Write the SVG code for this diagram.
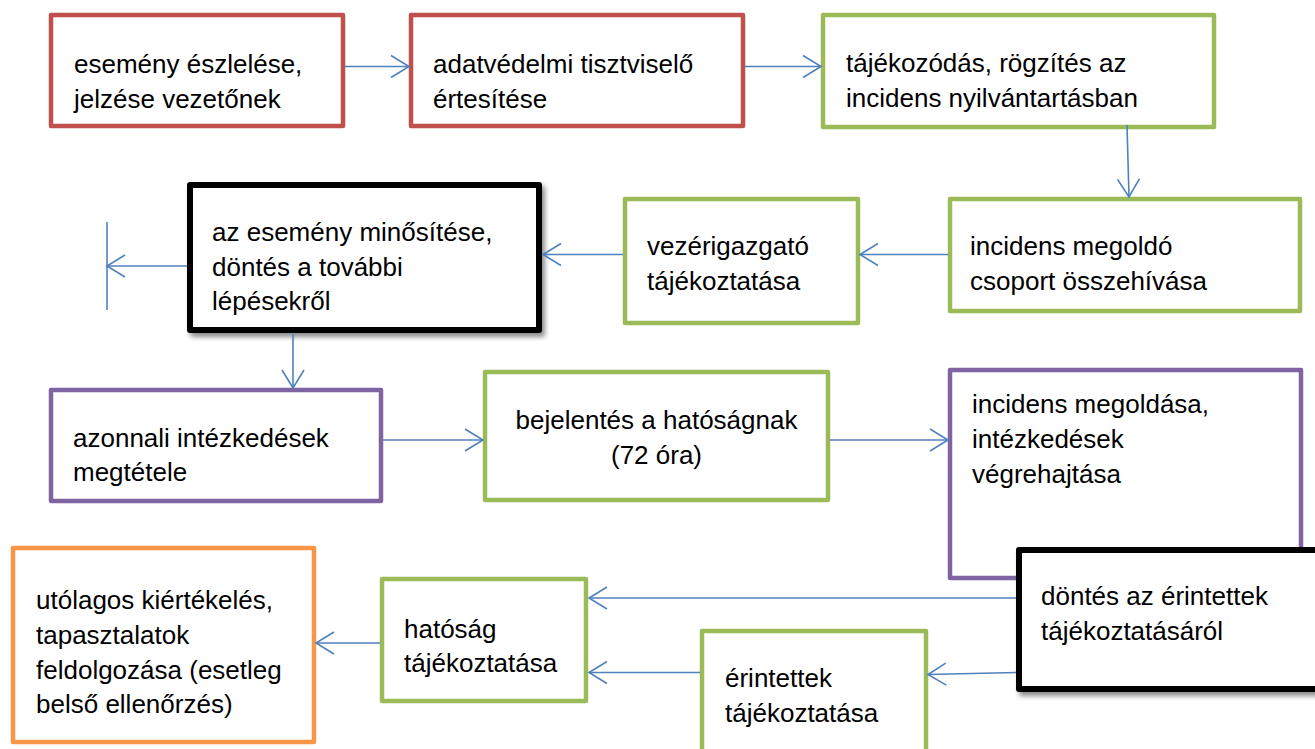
<svg xmlns="http://www.w3.org/2000/svg" width="1315" height="749" viewBox="0 0 1315 749">
<style>
  .box { fill: #ffffff; stroke-width: 4.5; stroke-linejoin: round; }
  .red { stroke: #C0504D; }
  .green { stroke: #9BBB59; }
  .purple { stroke: #8064A2; }
  .orange { stroke: #F79646; }
  .black { stroke: #000000; stroke-width: 6; }
  .t { font-family: "Liberation Sans", Arial, sans-serif; font-size: 26px; fill: #000000; }
  .conn line, .conn path { stroke: #4F81BD; stroke-width: 1.6; fill: none; }
</style>
<defs>
  <marker id="arr" markerUnits="userSpaceOnUse" markerWidth="24" markerHeight="28" refX="20" refY="12" orient="auto" viewBox="0 0 24 24">
    <path d="M2,1 L20,12 L2,23" fill="none" stroke="#4F81BD" stroke-width="1.6"/>
  </marker>
  <filter id="shadow" x="-10%" y="-10%" width="125%" height="130%">
    <feDropShadow dx="3" dy="4" stdDeviation="2.5" flood-color="#000000" flood-opacity="0.45"/>
  </filter>
</defs>
<rect width="1315" height="749" fill="#ffffff"/>

<g id="n1">
  <rect class="box red" x="51" y="15" width="292" height="111"/>
  <text class="t" x="74" y="72.5">esemény észlelése,</text>
  <text class="t" x="74" y="107.5">jelzése vezetőnek</text>
</g>
<g id="n2">
  <rect class="box red" x="411" y="15" width="332" height="111"/>
  <text class="t" x="433" y="72.5">adatvédelmi tisztviselő</text>
  <text class="t" x="433" y="107.5">értesítése</text>
</g>
<g id="n3">
  <rect class="box green" x="823" y="15" width="391" height="112"/>
  <text class="t" x="846" y="72">tájékozódás, rögzítés az</text>
  <text class="t" x="846" y="107">incidens nyilvántartásban</text>
</g>
<g id="n4">
  <rect class="box black" x="190" y="185" width="349" height="145" filter="url(#shadow)"/>
  <text class="t" x="212" y="241">az esemény minősítése,</text>
  <text class="t" x="212" y="275.5">döntés a további</text>
  <text class="t" x="212" y="310">lépésekről</text>
</g>
<g id="n5">
  <rect class="box green" x="625" y="199" width="233" height="124"/>
  <text class="t" x="647" y="255">vezérigazgató</text>
  <text class="t" x="647" y="290">tájékoztatása</text>
</g>
<g id="n6">
  <rect class="box green" x="950" y="199" width="350" height="112"/>
  <text class="t" x="970" y="255">incidens megoldó</text>
  <text class="t" x="970" y="290">csoport összehívása</text>
</g>
<g id="n7">
  <rect class="box purple" x="51" y="390" width="330" height="111"/>
  <text class="t" x="73" y="447">azonnali intézkedések</text>
  <text class="t" x="73" y="481">megtétele</text>
</g>
<g id="n8">
  <rect class="box green" x="485" y="372" width="343" height="128"/>
  <text class="t" x="656.5" y="429" text-anchor="middle">bejelentés a hatóságnak</text>
  <text class="t" x="656.5" y="464" text-anchor="middle">(72 óra)</text>
</g>
<g id="n9">
  <rect class="box purple" x="950" y="370" width="351" height="208"/>
  <text class="t" x="972" y="413">incidens megoldása,</text>
  <text class="t" x="972" y="448">intézkedések</text>
  <text class="t" x="972" y="483">végrehajtása</text>
</g>
<g id="n10">
  <rect class="box black" x="1019" y="550" width="310" height="139" filter="url(#shadow)"/>
  <text class="t" x="1041" y="605">döntés az érintettek</text>
  <text class="t" x="1041" y="640">tájékoztatásáról</text>
</g>
<g id="n11">
  <rect class="box green" x="702" y="631" width="224" height="135"/>
  <text class="t" x="725" y="687">érintettek</text>
  <text class="t" x="725" y="722">tájékoztatása</text>
</g>
<g id="n12">
  <rect class="box green" x="382" y="579" width="204" height="122"/>
  <text class="t" x="404" y="638">hatóság</text>
  <text class="t" x="404" y="672">tájékoztatása</text>
</g>
<g id="n13">
  <rect class="box orange" x="13" y="548" width="301" height="194"/>
  <text class="t" x="36" y="609">utólagos kiértékelés,</text>
  <text class="t" x="36" y="644">tapasztalatok</text>
  <text class="t" x="36" y="679">feldolgozása (esetleg</text>
  <text class="t" x="36" y="713">belső ellenőrzés)</text>
</g>

<g id="connectors" class="conn">
  <line x1="345" y1="66.5" x2="409" y2="66.5" marker-end="url(#arr)"/>
  <line x1="745" y1="66.5" x2="821" y2="66.5" marker-end="url(#arr)"/>
  <line x1="1127" y1="125" x2="1129" y2="197" marker-end="url(#arr)"/>
  <line x1="948" y1="254.5" x2="860" y2="254.5" marker-end="url(#arr)"/>
  <line x1="623" y1="254.5" x2="543" y2="254.5" marker-end="url(#arr)"/>
  <line x1="187" y1="266" x2="107" y2="266" marker-end="url(#arr)"/>
  <line x1="107" y1="222" x2="107" y2="310"/>
  <line x1="293" y1="334" x2="293" y2="388" marker-end="url(#arr)"/>
  <line x1="383" y1="440" x2="483" y2="440" marker-end="url(#arr)"/>
  <line x1="830" y1="440" x2="948" y2="440" marker-end="url(#arr)"/>
  <line x1="1016" y1="598" x2="589" y2="598" marker-end="url(#arr)"/>
  <line x1="1016" y1="672.5" x2="928" y2="674.5" marker-end="url(#arr)"/>
  <line x1="700" y1="672.5" x2="589" y2="672.5" marker-end="url(#arr)"/>
  <line x1="380" y1="643" x2="316" y2="643" marker-end="url(#arr)"/>
</g>
</svg>
